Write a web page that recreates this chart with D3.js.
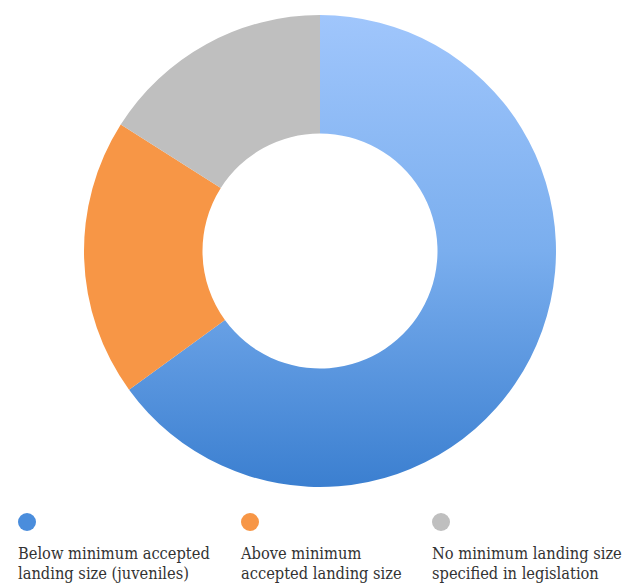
<!DOCTYPE html>
<html>
<head>
<meta charset="utf-8">
<script src="https://cdn.jsdelivr.net/npm/d3@7"></script>
<style>
  body { margin: 0; background: #fff; }
  .legend-text { font-family: "DejaVu Serif Condensed", "DejaVu Serif", serif; font-stretch: condensed; font-size: 16.3px; fill: #333; }
</style>
</head>
<body>
<script>
// chart values (share in %)
var categories = ["Below minimum accepted landing size (juveniles)",
                  "Above minimum accepted landing size",
                  "No minimum landing size specified in legislation"];
var values = [65, 19, 16];
var labelLines = [["Below minimum accepted", "landing size (juveniles)"],
                  ["Above minimum", "accepted landing size"],
                  ["No minimum landing size", "specified in legislation"]];
var colors = ["#5b9be6", "#f79646", "#bfbfbf"];

var svgWidth = 632;
var svgHeight = 583;

var svg = d3.select("body")
  .append("svg")
  .attr("width", svgWidth)
  .attr("height", svgHeight);

// gradient on the blue slice
var defs = svg.append("defs");
var grad = defs.append("linearGradient")
  .attr("id", "blueGrad")
  .attr("gradientUnits", "userSpaceOnUse")
  .attr("x1", 0).attr("y1", -236)
  .attr("x2", 0).attr("y2", 236);
grad.append("stop").attr("offset", "0%").attr("stop-color", "#a0c6fc");
grad.append("stop").attr("offset", "50%").attr("stop-color", "#7aaeee");
grad.append("stop").attr("offset", "100%").attr("stop-color", "#3b7fd0");

var group = svg.append("g")
  .attr("transform", "translate(320, 251)");

var pie = d3.pie().sort(null).value(function(d) { return d; });
var arc = d3.arc().innerRadius(117.5).outerRadius(236);

group.selectAll("path")
  .data(pie(values))
  .enter()
  .append("path")
  .attr("d", arc)
  .attr("fill", function(d, i) { return i === 0 ? "url(#blueGrad)" : colors[i]; });

// legend
var legendX = d3.scaleOrdinal().domain(categories).range([18, 241, 432]);

var legend = svg.selectAll(".legend")
  .data(categories)
  .enter()
  .append("g")
  .attr("class", "legend")
  .attr("transform", function(d) { return "translate(" + legendX(d) + ", 0)"; });

legend.append("circle")
  .attr("cx", 9)
  .attr("cy", 522)
  .attr("r", 9)
  .attr("fill", function(d, i) { return i === 0 ? "#4a8ddc" : colors[i]; });

legend.each(function(d, i) {
  var g = d3.select(this);
  labelLines[i].forEach(function(line, j) {
    g.append("text")
      .attr("class", "legend-text")
      .attr("x", 0)
      .attr("y", 559 + j * 19.5)
      .text(line);
  });
});
</script>
</body>
</html>
